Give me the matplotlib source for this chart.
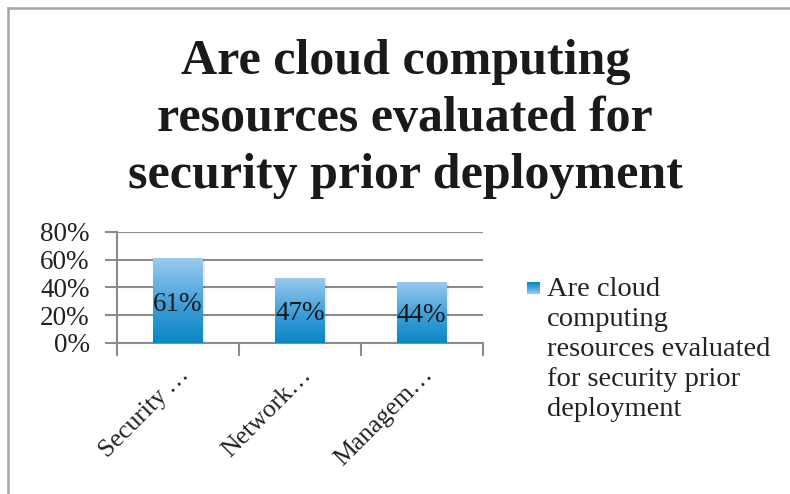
import matplotlib.pyplot as plt
import numpy as np
from matplotlib.colors import LinearSegmentedColormap
from matplotlib.lines import Line2D
from matplotlib.patches import Rectangle

categories = ["Security\u2009\u2026", "Network\u2026", "Managem\u2026"]
values = [61, 47, 44]
series_name = "Are cloud computing resources evaluated for security prior deployment"
title = "Are cloud computing\nresources evaluated for\nsecurity prior deployment"
y_ticks = [0, 20, 40, 60, 80]

plt.rcParams['font.family'] = ['Liberation Serif', 'DejaVu Serif']

fig = plt.figure(figsize=(7.9, 4.94), dpi=100)
ax = fig.add_axes([0.148, 0.3057, 0.463, 0.2247])

# blue gradient, light at the top, deeper at the base
grad = LinearSegmentedColormap.from_list(
    "bar_blue", [(0.0, "#0a86c4"), (0.45, "#3e9fd9"), (1.0, "#9ccbef")])
gradient = np.linspace(0, 1, 256).reshape(-1, 1)

x = np.arange(len(categories))
bars = ax.bar(x, values, width=0.41, color="none", zorder=3)
for rect, v in zip(bars, values):
    x0, w = rect.get_x(), rect.get_width()
    # faint drop shadow
    ax.add_patch(Rectangle((x0 + 0.02, -0.8), w, v, facecolor="#000000",
                           alpha=0.08, lw=0, zorder=2))
    im = ax.imshow(gradient, cmap=grad, aspect="auto", origin="lower",
                   extent=(x0, x0 + w, 0, v), zorder=3)
    im.set_clip_path(rect)
    ax.text(x0 + w / 2, v / 2 - 2.5, f"{v}%", ha="center", va="center",
            fontsize=19.5, color="#1a1a1a", zorder=4)

ax.set_xlim(-0.5, len(categories) - 0.5)
ax.set_ylim(0, 80)
ax.set_yticks(y_ticks)
ax.set_yticklabels([f"{t}%" for t in y_ticks], fontsize=19.5, color="#222222")
ax.yaxis.grid(True, color="#8c8c8c", lw=1.5, zorder=0)
ax.set_axisbelow(True)

# x ticks sit on the category boundaries, labels under each bar
ax.set_xticks(np.arange(-0.5, len(categories)), minor=False)
ax.set_xticklabels([])
ax.set_xticks(x, minor=True)
ax.set_xticklabels(categories, minor=True, rotation=45, ha="right",
                   rotation_mode="anchor", fontsize=18.5, color="#222222")
ax.tick_params(axis="x", which="minor", length=0, pad=15)
ax.tick_params(axis="x", which="major", length=9, width=1.5, color="#8c8c8c")
ax.tick_params(axis="y", length=9, width=1.5, color="#8c8c8c", pad=10.5)

for side in ["top", "right"]:
    ax.spines[side].set_visible(False)
for side in ["left", "bottom"]:
    ax.spines[side].set_color("#8c8c8c")
    ax.spines[side].set_linewidth(1.5)

fig.text(0.513, 1 - 119 / 494, title, ha="center", va="center", fontsize=36,
         fontweight="bold", color="#1a1a1a", linespacing=1.31)

# legend: swatch plus wrapped series name
lax = fig.add_axes([0, 0, 1, 1], facecolor="none")
lax.set_axis_off()
lax.set_xlim(0, 790)
lax.set_ylim(494, 0)
sw = lax.imshow(gradient, cmap=grad, aspect="auto", origin="upper",
                extent=(527, 540, 294, 282))
lax.text(547, 277, "Are cloud\ncomputing\nresources evaluated\nfor security prior\ndeployment",
         ha="left", va="top", fontsize=20.5, color="#222222", linespacing=1.26)

# outer chart border (top and left edges)
fig.add_artist(Line2D([0.0101, 0.0101], [0, 0.984], color="#a6a6a6", lw=1.8))
fig.add_artist(Line2D([0.0101, 1], [0.984, 0.984], color="#a6a6a6", lw=1.8))

fig.savefig("out.png", dpi=100)
